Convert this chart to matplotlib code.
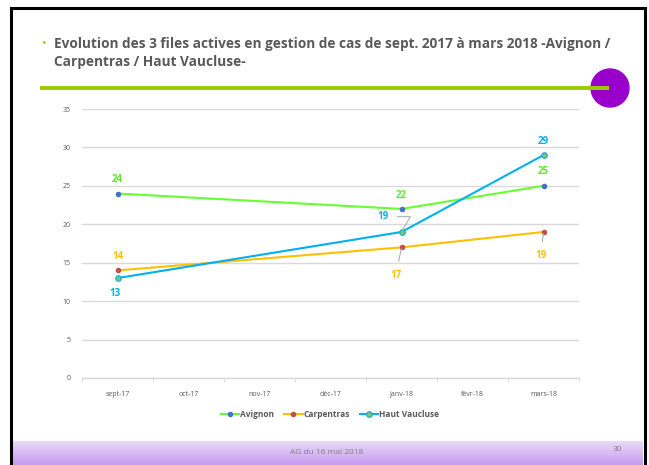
import numpy as np
import matplotlib.pyplot as plt
from matplotlib.patches import Ellipse
from matplotlib.lines import Line2D
from matplotlib.colors import LinearSegmentedColormap

plt.rcParams['font.family'] = ['Open Sans', 'DejaVu Sans']

months = ['sept-17', 'oct-17', 'nov-17', 'déc-17', 'janv-18', 'févr-18', 'mars-18']
idx = [0, 4, 6]
avignon = [24, 22, 25]
carpentras = [14, 17, 19]
haut_vaucluse = [13, 19, 29]
title = ('Evolution des 3 files actives en gestion de cas de sept. 2017 à mars 2018 -Avignon /\n'
         'Carpentras / Haut Vaucluse-')

W, H = 649, 465
fig = plt.figure(figsize=(W / 100, H / 100), dpi=100)

def fx(px):
    return px / W

def fy(py):
    return 1 - py / H

# slide footer band
bg = fig.add_axes([fx(12), 0, fx(643) - fx(12), 24 / H])
grad = np.linspace(0, 1, 50).reshape(-1, 1)
cm = LinearSegmentedColormap.from_list('f', ['#ebdcf8', '#c79cf0'])
bg.imshow(grad, aspect='auto', cmap=cm, extent=[0, 1, 0, 1], origin='upper')
bg.axis('off')

# slide frame
for xs, ys in [([fx(11), fx(11)], [fy(8), 0]), ([fx(11), fx(644.5)], [fy(8), fy(8)]),
               ([fx(644.5), fx(644.5)], [fy(8), 0])]:
    fig.add_artist(Line2D(xs, ys, color='black', lw=2.2))

# title
fig.text(fx(42), fy(44), '•', color='#99cc00', fontsize=9, va='center')
fig.text(fx(54), fy(53), title, color='#595959', fontsize=9.8, fontweight='bold',
         va='center', ha='left', linespacing=1.45)

# decoration line + circle
fig.add_artist(Line2D([fx(42), fx(607)], [fy(88.5), fy(88.5)], color='#99cc00', lw=2.8))
fig.add_artist(Ellipse((fx(610), fy(88)), 38 / W, 38 / H, color='#9900cc', transform=fig.transFigure))
fig.add_artist(Line2D([fx(590), fx(607)], [fy(88.5), fy(88.5)], color='#99cc00', lw=2.8))

# footer text
fig.text(0.504, fy(452), 'AG du 16 mai 2018', color='#7f7f7f', fontsize=6, ha='center', va='center')
fig.text(fx(617), fy(449), '30', color='#7f7f7f', fontsize=6, ha='center', va='center')

ax = fig.add_axes([fx(82), fy(378), fx(579) - fx(82), fy(109) - fy(378)])
ax.set_xlim(-0.5, 6.5)
ax.set_ylim(0, 35)
ax.set_yticks(range(0, 36, 5))
ax.set_xticks(range(len(months)))
ax.set_xticklabels(months)
ax.set_xticks(np.arange(-0.5, 7, 1), minor=True)
ax.grid(axis='y', color='#d9d9d9', lw=1)
ax.set_axisbelow(True)
for s in ['top', 'right', 'left']:
    ax.spines[s].set_visible(False)
ax.spines['bottom'].set_color('#d9d9d9')
ax.spines['bottom'].set_linewidth(1)
ax.tick_params(axis='x', which='major', length=0, labelsize=5, labelcolor='#595959', pad=9)
ax.tick_params(axis='x', which='minor', length=3, color='#d9d9d9')
ax.tick_params(axis='y', length=0, labelsize=5, labelcolor='#595959', pad=8)

series = [
    ('Avignon', avignon, '#66ff33', '#4472c4'),
    ('Carpentras', carpentras, '#ffc000', '#c0504d'),
    ('Haut Vaucluse', haut_vaucluse, '#00b0f0', '#9bbb59'),
]
for name, vals, lc, mc in series:
    hv = name == 'Haut Vaucluse'
    ax.plot(idx, vals, color=lc, lw=1.5, marker='o', ms=4, mfc=mc, mec=lc if hv else mc,
            mew=0.8 if hv else 0, label=name)

lab = dict(fontsize=7, fontweight='bold', ha='center', va='center')
lead = dict(arrowstyle='-', color='#a6a6a6', lw=0.7, shrinkA=4, shrinkB=1)
# Avignon
for i, v in zip(idx, avignon):
    ax.annotate(str(v), (i, v), xytext=(0, 10), textcoords='offset points', color='#5fe830', **lab)
# Carpentras
ax.annotate(str(carpentras[0]), (idx[0], carpentras[0]), xytext=(0, 10), textcoords='offset points',
            color='#ffc000', **lab)
ax.annotate(str(carpentras[1]), (idx[1], carpentras[1]), xytext=(-4, -20), textcoords='offset points',
            color='#ffc000', arrowprops=lead, **lab)
ax.annotate(str(carpentras[2]), (idx[2], carpentras[2]), xytext=(-2, -17), textcoords='offset points',
            color='#ffc000', arrowprops=lead, **lab)
# Haut Vaucluse
ax.annotate(str(haut_vaucluse[0]), (idx[0], haut_vaucluse[0]), xytext=(-2, -11), textcoords='offset points',
            color='#00b0f0', **lab)
ax.annotate(str(haut_vaucluse[1]), (idx[1], haut_vaucluse[1]), xytext=(-13, 11), textcoords='offset points',
            color='#00b0f0', arrowprops=dict(lead, connectionstyle='angle,angleA=0,angleB=60,rad=0'), **lab)
ax.annotate(str(haut_vaucluse[2]), (idx[2], haut_vaucluse[2]), xytext=(0, 10), textcoords='offset points',
            color='#00b0f0', **lab)

leg = fig.legend(loc='center', bbox_to_anchor=(fx(330), fy(414)), ncol=3, frameon=False,
                 prop={'size': 6, 'weight': 'bold'}, handlelength=2.2, handletextpad=0.1, columnspacing=1.2)
for t in leg.get_texts():
    t.set_color('#595959')

fig.savefig('out.png', dpi=100)
